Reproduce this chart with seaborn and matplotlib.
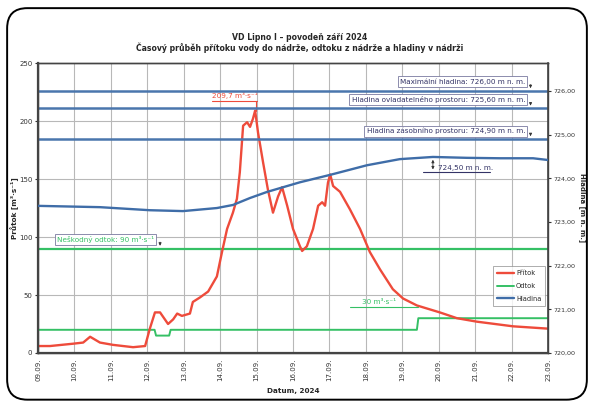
import numpy as np
import pandas as pd
import matplotlib
matplotlib.use("Agg")
import matplotlib.pyplot as plt
import seaborn as sns
from matplotlib.patches import FancyBboxPatch

# ---- data (days since 09.09.2024 00:00) ----
day_labels = ["09.09.", "10.09.", "11.09.", "12.09.", "13.09.", "14.09.", "15.09.", "16.09.",
              "17.09.", "18.09.", "19.09.", "20.09.", "21.09.", "22.09.", "23.09."]

pritok_t = [0.0, 0.33, 0.96, 1.24, 1.43, 1.70, 2.06, 2.61, 2.94, 3.07, 3.21, 3.35, 3.57, 3.71,
            3.82, 3.95, 4.17, 4.25, 4.45, 4.67, 4.91, 5.05, 5.19, 5.35, 5.46, 5.54, 5.63, 5.74,
            5.82, 5.90, 5.96, 6.04, 6.18, 6.31, 6.45, 6.59, 6.70, 6.84, 7.00, 7.19, 7.25, 7.38,
            7.55, 7.69, 7.80, 7.88, 7.96, 8.02, 8.10, 8.29, 8.56, 8.84, 9.11, 9.39, 9.74, 10.02,
            10.40, 11.03, 11.50, 12.05, 13.04, 14.0]
pritok_q = [6, 6, 8, 9, 14, 9, 7, 5, 6, 21, 35, 35, 25, 29,
            34, 32, 34, 44, 48, 53, 66, 87, 107, 121, 133, 156, 196, 199,
            195, 202, 209, 190, 164, 141, 121, 135, 143, 127, 107, 92, 88, 92,
            107, 127, 130, 127, 147, 154, 144, 139, 124, 107, 87, 72, 55, 47,
            41, 35, 30, 27, 23, 21]

odtok_t = [0.0, 3.20, 3.24, 3.60, 3.64, 10.40, 10.44, 14.0]
odtok_q = [20, 20, 15, 15, 20, 20, 30, 30]

hladina_t = [0.0, 1.70, 3.07, 3.98, 4.91, 5.35, 5.82, 6.29, 7.19, 8.02, 9.03, 9.93, 10.84,
             11.77, 12.68, 13.59, 14.0]
hladina_h = [723.37, 723.34, 723.27, 723.25, 723.32, 723.39, 723.55, 723.69, 723.91, 724.08,
             724.30, 724.44, 724.49, 724.47, 724.46, 724.46, 724.42]

neskodny_odtok = 90
ref_levels = [726.00, 725.60, 724.90]
ref_texts = ["Maximální hladina: 726,00 m n. m.",
             "Hladina ovladatelného prostoru: 725,60 m n. m.",
             "Hladina zásobního prostoru: 724,90 m n. m."]

left_ticks = [0, 50, 100, 150, 200, 250]
right_ticks = [720, 721, 722, 723, 724, 725, 726]

RED = "#ee4b3b"
GREEN = "#35c065"
BLUE = "#3f6da8"
REFBLUE = "#4a76ad"
LBL = 5.2

sns.set_theme(style="white")
plt.rcParams['font.family'] = ['DejaVu Sans']

fig = plt.figure(figsize=(5.94, 4.07), dpi=100)
ax = fig.add_axes([0.064, 0.1327, 0.8586, 0.7123])
ax2 = ax.twinx()

df_p = pd.DataFrame({"t": pritok_t, "q": pritok_q})
df_o = pd.DataFrame({"t": odtok_t, "q": odtok_q})
df_h = pd.DataFrame({"t": hladina_t, "h": hladina_h})

# grid
for d in range(1, 14):
    ax.axvline(d, color="#b8b8b8", lw=0.8, zorder=0)
for v in left_ticks[1:-1]:
    ax.axhline(v, color="#b8b8b8", lw=0.8, zorder=0)

ax.axhline(neskodny_odtok, color=GREEN, lw=1.6, zorder=1)
sns.lineplot(data=df_o, x="t", y="q", ax=ax, color=GREEN, lw=1.4, label="Odtok", zorder=3, legend=False)
sns.lineplot(data=df_p, x="t", y="q", ax=ax, color=RED, lw=1.7, label="Přítok", zorder=4, legend=False)

for lv in ref_levels:
    ax2.axhline(lv, color=REFBLUE, lw=1.8, zorder=1)
sns.lineplot(data=df_h, x="t", y="h", ax=ax2, color=BLUE, lw=1.7, label="Hladina", zorder=3, legend=False)

ax.set_xlim(0, 14)
ax.set_ylim(0, 250)
ax2.set_ylim(720, 726.64)
ax.set_xticks(range(15))
ax.set_xticklabels(day_labels, rotation=90, fontsize=5)
ax.set_yticks(left_ticks)
ax.set_yticklabels([str(v) for v in left_ticks], fontsize=5)
ax2.set_yticks(right_ticks)
ax2.set_yticklabels([f"{v:.2f}".replace(".", ",") for v in right_ticks], fontsize=4.6)
ax.tick_params(axis="both", length=2, width=0.8, pad=2, colors="#333333")
ax2.tick_params(axis="y", length=2, width=0.8, pad=2, colors="#333333")
ax.set_xlabel("Datum, 2024", fontsize=5.2, fontweight="bold", labelpad=5)
ax.set_ylabel("Průtok [m³·s⁻¹]", fontsize=5.2, fontweight="bold")
ax.yaxis.set_label_coords(-0.038, 0.5)
ax2.set_ylabel("Hladina [m n. m.]", fontsize=5.0, fontweight="bold", rotation=270, va="center")
ax2.yaxis.set_label_coords(1.067, 0.5)
for a in (ax, ax2):
    for s in a.spines.values():
        s.set_color("#444444")
        s.set_linewidth(1.0)
ax.spines["left"].set_linewidth(1.6)
ax.spines["bottom"].set_linewidth(1.6)
ax2.spines["right"].set_linewidth(1.2)

# reference level labels
box_y = [726.21, 725.80, 725.08]
for lv, txt, by in zip(ref_levels, ref_texts, box_y):
    ax2.text(13.37, by, txt, ha="right", va="center", fontsize=LBL, color="#333366",
             bbox=dict(boxstyle="square,pad=0.3", fc="white", ec="#7a7aa0", lw=0.6), zorder=6)
    ax2.annotate("", xy=(13.52, lv), xytext=(13.52, by),
                 arrowprops=dict(arrowstyle="-|>", color="#333333", lw=0.6, mutation_scale=4), zorder=6)

# neskodny odtok
ax.text(0.52, 98, "Neškodný odtok: 90 m³·s⁻¹", ha="left", va="center", fontsize=LBL, color=GREEN,
        bbox=dict(boxstyle="square,pad=0.3", fc="white", ec="#7a7aa0", lw=0.6), zorder=6)
ax.annotate("", xy=(3.35, 90), xytext=(3.35, 98),
            arrowprops=dict(arrowstyle="-|>", color="#333333", lw=0.6, mutation_scale=4), zorder=6)

# peak annotation
ax.plot([4.78, 6.0], [217, 217], color=RED, lw=0.8, zorder=5)
ax.plot([5.98, 5.98], [217, 209], color=RED, lw=0.8, zorder=5)
ax.text(5.4, 219, "209,7 m³·s⁻¹", ha="center", va="bottom", fontsize=LBL, color=RED, zorder=6)

# 30 m3/s annotation
ax.plot([8.56, 10.43], [40, 40], color=GREEN, lw=0.8, zorder=5)
ax.text(9.35, 41.5, "30 m³·s⁻¹", ha="center", va="bottom", fontsize=LBL, color=GREEN, zorder=6)

# 724,50 annotation
ax2.plot([10.57, 12.4], [724.14, 724.14], color="#333366", lw=0.8, zorder=5)
ax2.annotate("", xy=(10.84, 724.14), xytext=(10.84, 724.49),
             arrowprops=dict(arrowstyle="<|-|>", color="#333333", lw=0.6, mutation_scale=4), zorder=6)
ax2.text(10.98, 724.17, "724,50 m n. m.", ha="left", va="bottom", fontsize=LBL, color="#333366", zorder=6)

# legend
h1, l1 = ax.get_legend_handles_labels()
h2, l2 = ax2.get_legend_handles_labels()
hd = dict(zip(l1 + l2, h1 + h2))
order = ["Přítok", "Odtok", "Hladina"]
leg = ax2.legend([hd[k] for k in order], order, loc="upper left", bbox_to_anchor=(0.885, 0.31),
                 fontsize=4.8, frameon=True, fancybox=False, edgecolor="#888888",
                 handlelength=2.6, borderpad=0.6, labelspacing=1.0, handletextpad=0.3)
leg.get_frame().set_linewidth(0.6)
leg.set_zorder(10)

fig.text(0.505, 0.908, "VD Lipno I – povodeň září 2024", ha="center", va="center",
         fontsize=5.6, fontweight="bold")
fig.text(0.505, 0.882, "Časový průběh přítoku vody do nádrže, odtoku z nádrže a hladiny v nádrži",
         ha="center", va="center", fontsize=5.6, fontweight="bold")

frame = FancyBboxPatch((0.012, 0.018), 0.976, 0.962, transform=fig.transFigure,
                       boxstyle="round,pad=0,rounding_size=0.034", mutation_aspect=594 / 407,
                       fc="none", ec="black", lw=1.4, zorder=20)
fig.patches.append(frame)

fig.savefig("out.png", dpi=100, facecolor="white")
